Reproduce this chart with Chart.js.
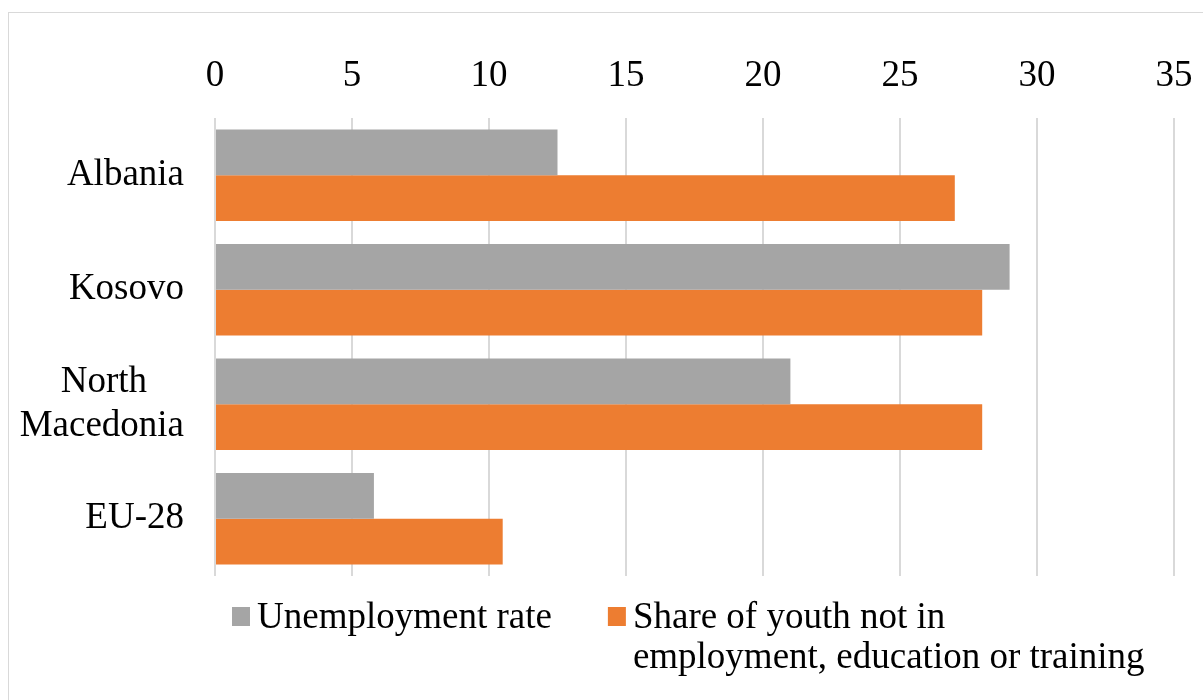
<!DOCTYPE html>
<html>
<head>
<meta charset="utf-8">
<script src="https://cdn.jsdelivr.net/npm/chart.js@4/dist/chart.umd.min.js"></script>
<style>
  html, body { margin: 0; padding: 0; background: #ffffff; }
  #wrap { position: relative; width: 1203px; height: 700px; overflow: hidden; }
  #frame { position: absolute; left: 8px; top: 12px; width: 1300px; height: 800px;
           border: 1.5px solid #d9d9d9; box-sizing: border-box; }
  #chart { position: absolute; left: 0; top: 0; }
</style>
</head>
<body>
<div id="wrap">
  <div id="frame"></div>
  <canvas id="chart" width="1203" height="700"></canvas>
</div>
<script>
const categories = ['Albania', 'Kosovo', 'North Macedonia', 'EU-28'];
const unemploymentRate = [12.5, 29.0, 21.0, 5.8];
const neetShare = [27.0, 28.0, 28.0, 10.5];
const xTickValues = [0, 5, 10, 15, 20, 25, 30, 35];
const seriesLabels = [
  ['Unemployment rate'],
  ['Share of youth not in', 'employment, education or training']
];
const seriesColors = ['#a5a5a5', '#ed7d31'];

const FONT_FAMILY = "'Liberation Serif', 'Times New Roman', serif";
const FONT_SIZE = 37;

// Multi-line category labels: centre the shorter lines over the longest one
// by padding them with trailing spaces (labels are right-aligned).
const measureCtx = document.createElement('canvas').getContext('2d');
measureCtx.font = FONT_SIZE + 'px ' + FONT_FAMILY;
function categoryLines(label) {
  const words = label.split(' ');
  if (words.length < 2 || label.length < 12) return label;
  const lines = words;
  const widths = lines.map(l => measureCtx.measureText(l).width);
  const widest = Math.max(...widths);
  const space = measureCtx.measureText(' ').width;
  return lines.map((l, i) => l + ' '.repeat(Math.round((widest - widths[i]) / 2 / space)));
}

// Legend below the plot, drawn from the datasets' own labels and colours.
const bottomLegend = {
  id: 'bottomLegend',
  afterDraw(chart) {
    const ctx = chart.ctx;
    ctx.save();
    ctx.font = FONT_SIZE + 'px ' + FONT_FAMILY;
    ctx.textBaseline = 'alphabetic';
    ctx.textAlign = 'left';
    let x = 232;
    const baseline = 628;
    const lineGap = 40;
    chart.data.datasets.forEach(ds => {
      const lines = Array.isArray(ds.label) ? ds.label : [ds.label];
      ctx.fillStyle = ds.backgroundColor;
      ctx.fillRect(x, 607, 18, 19);
      ctx.fillStyle = '#000000';
      let w = 0;
      lines.forEach((line, i) => {
        ctx.fillText(line, x + 25, baseline + i * lineGap);
        w = Math.max(w, ctx.measureText(line).width);
      });
      x += 25 + w + 56;
    });
    ctx.restore();
  }
};

new Chart(document.getElementById('chart'), {
  type: 'bar',
  data: {
    labels: categories,
    datasets: [
      { label: seriesLabels[0], data: unemploymentRate, backgroundColor: seriesColors[0] },
      { label: seriesLabels[1], data: neetShare, backgroundColor: seriesColors[1] }
    ]
  },
  options: {
    indexAxis: 'y',
    responsive: false,
    animation: false,
    categoryPercentage: 0.8,
    barPercentage: 1.0,
    layout: { padding: { left: 0, top: 0, right: 29, bottom: 124 } },
    plugins: {
      legend: { display: false },
      tooltip: { enabled: false }
    },
    scales: {
      x: {
        position: 'top',
        min: 0,
        max: 35,
        afterBuildTicks(scale) { scale.ticks = xTickValues.map(v => ({ value: v })); },
        afterFit(scale) {
          scale.height = 118;
          scale.paddingLeft = 0;
          scale.paddingRight = 0;
        },
        grid: { color: '#d9d9d9', lineWidth: 2, drawTicks: false },
        border: { display: false },
        ticks: {
          padding: 20,
          color: '#000000',
          font: { family: FONT_FAMILY, size: FONT_SIZE }
        }
      },
      y: {
        afterFit(scale) { scale.width = 215; },
        grid: { display: false, drawTicks: false },
        border: { display: false },
        ticks: {
          padding: 31,
          color: '#000000',
          font: { family: FONT_FAMILY, size: FONT_SIZE, lineHeight: 1.17 },
          callback(value) { return categoryLines(this.getLabelForValue(value)); }
        }
      }
    }
  },
  plugins: [bottomLegend]
});
</script>
</body>
</html>
